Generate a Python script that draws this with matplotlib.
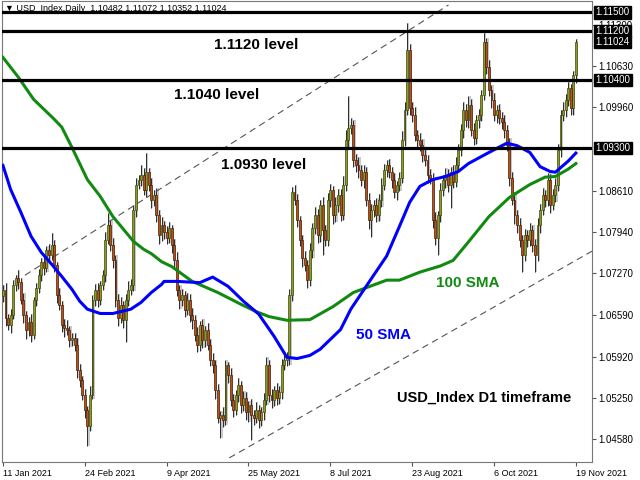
import numpy as np
import pandas as pd
import matplotlib
matplotlib.use('Agg')
import matplotlib.pyplot as plt
import matplotlib.transforms as mtransforms

plt.rcParams['font.family'] = ['Liberation Sans', 'DejaVu Sans']

# daily closes, 11 Jan 2021 .. 19 Nov 2021 (one per weekday)
closes = [
    1.0700, 1.0655, 1.0643, 1.0660, 1.0708, 1.0719, 1.0713, 1.0684, 1.0660, 1.0635, 1.0648, 1.0627, 1.0684, 1.0703, 1.0724,
    1.0745, 1.0736, 1.0765, 1.0757, 1.0773, 1.0740, 1.0692, 1.0676, 1.0643, 1.0638, 1.0635, 1.0619, 1.0622, 1.0611, 1.0570,
    1.0554, 1.0530, 1.0506, 1.0480, 1.0530, 1.0684, 1.0700, 1.0684, 1.0708, 1.0724, 1.0781, 1.0805, 1.0773, 1.0749, 1.0684,
    1.0655, 1.0676, 1.0651, 1.0684, 1.0700, 1.0708, 1.0830, 1.0870, 1.0878, 1.0886, 1.0862, 1.0891, 1.0870, 1.0846, 1.0854,
    1.0821, 1.0789, 1.0805, 1.0794, 1.0784, 1.0800, 1.0773, 1.0749, 1.0700, 1.0684, 1.0692, 1.0668, 1.0684, 1.0660, 1.0651,
    1.0627, 1.0611, 1.0643, 1.0619, 1.0635, 1.0611, 1.0587, 1.0578, 1.0538, 1.0493, 1.0497, 1.0489, 1.0578, 1.0562, 1.0522,
    1.0506, 1.0530, 1.0546, 1.0514, 1.0525, 1.0502, 1.0514, 1.0497, 1.0493, 1.0506, 1.0489, 1.0502, 1.0522, 1.0578, 1.0530,
    1.0522, 1.0538, 1.0525, 1.0535, 1.0578, 1.0587, 1.0590, 1.0692, 1.0859, 1.0846, 1.0813, 1.0781, 1.0752, 1.0740, 1.0716,
    1.0765, 1.0800, 1.0821, 1.0789, 1.0838, 1.0797, 1.0781, 1.0846, 1.0862, 1.0821, 1.0838, 1.0854, 1.0821, 1.0870, 1.0943,
    1.0962, 1.0967, 1.0911, 1.0902, 1.0894, 1.0878, 1.0891, 1.0846, 1.0813, 1.0830, 1.0838, 1.0821, 1.0846, 1.0870, 1.0894,
    1.0902, 1.0891, 1.0878, 1.0859, 1.0870, 1.0881, 1.0943, 1.0992, 1.1089, 1.0995, 1.0983, 1.0951, 1.0943, 1.0935, 1.0919,
    1.0911, 1.0886, 1.0881, 1.0813, 1.0784, 1.0821, 1.0862, 1.0878, 1.0886, 1.0870, 1.0891, 1.0875, 1.0902, 1.0927, 1.0959,
    1.0992, 1.0975, 1.1000, 1.0959, 1.0946, 1.0975, 1.0983, 1.1016, 1.1102, 1.1061, 1.1024, 1.1008, 1.0983, 1.0992, 1.0979,
    1.0972, 1.0959, 1.0935, 1.0881, 1.0846, 1.0821, 1.0805, 1.0781, 1.0757, 1.0789, 1.0781, 1.0797, 1.0773, 1.0757, 1.0805,
    1.0830, 1.0854, 1.0846, 1.0878, 1.0838, 1.0854, 1.0870, 1.0927, 1.0983, 1.0992, 1.1008, 1.1027, 1.0995, 1.10482, 1.11024,
]
first_open = 1.0690

# wick lengths in pips above / below the body
wick_up = [
    8, 12, 6, 10, 9, 5, 14, 7, 11, 6, 9, 13, 5, 8, 10,
    7, 12, 6, 9, 19, 8, 5, 11, 7, 10, 13, 6, 9, 8, 12,
    10, 7, 9, 6, 14, 8, 10, 12, 6, 9, 13, 20, 8, 11, 7,
    9, 12, 7, 10, 14, 10, 8, 12, 9, 16, 12, 31, 7, 11, 8,
    12, 9, 14, 7, 10, 11, 6, 9, 13, 8, 10, 7, 12, 9, 11,
    8, 13, 7, 10, 6, 12, 9, 11, 8, 10, 7, 14, 9, 6, 12,
    10, 8, 12, 7, 11, 9, 6, 10, 8, 13, 7, 9, 11, 14, 8,
    10, 7, 12, 9, 11, 8, 10, 9, 8, 12, 10, 7, 9, 11, 8,
    12, 9, 14, 10, 8, 13, 9, 11, 10, 7, 12, 9, 10, 14, 16,
    53, 12, 9, 10, 13, 8, 11, 9, 12, 10, 8, 11, 9, 12, 10,
    8, 11, 9, 12, 7, 10, 14, 12, 44, 10, 9, 13, 8, 11, 9,
    12, 8, 10, 9, 13, 7, 11, 9, 12, 10, 8, 11, 14, 9, 10,
    13, 9, 14, 10, 12, 9, 11, 8, 15, 7, 12, 9, 11, 8, 10,
    9, 12, 8, 11, 10, 13, 9, 12, 8, 10, 9, 11, 8, 10, 12,
    9, 11, 8, 12, 10, 9, 11, 10, 8, 12, 9, 10, 7, 6, 5,
]
wick_dn = [
    10, 14, 8, 12, 7, 9, 11, 6, 13, 15, 9, 12, 7, 10, 8,
    9, 11, 7, 12, 8, 10, 13, 9, 11, 14, 8, 12, 10, 9, 13,
    11, 9, 14, 32, 8, 7, 10, 12, 9, 8, 11, 7, 10, 13, 12,
    14, 9, 12, 35, 10, 8, 9, 11, 7, 10, 8, 12, 9, 13, 10,
    11, 14, 9, 12, 10, 8, 13, 11, 9, 15, 10, 12, 8, 11, 14,
    10, 12, 9, 13, 11, 8, 10, 12, 14, 9, 32, 11, 8, 13, 10,
    12, 9, 11, 14, 10, 12, 16, 40, 11, 9, 13, 10, 12, 9, 11,
    13, 10, 12, 9, 11, 8, 10, 12, 9, 8, 11, 10, 14, 9, 12,
    10, 13, 9, 12, 11, 40, 10, 9, 12, 14, 10, 11, 9, 8, 10,
    12, 9, 11, 10, 13, 9, 12, 10, 14, 27, 11, 10, 9, 12, 8,
    11, 9, 12, 10, 13, 9, 8, 10, 9, 12, 11, 9, 13, 10, 12,
    10, 13, 9, 12, 11, 27, 10, 9, 12, 11, 37, 10, 8, 11, 9,
    12, 10, 13, 9, 11, 10, 12, 9, 8, 11, 10, 13, 9, 12, 10,
    11, 13, 10, 12, 9, 14, 12, 11, 27, 10, 12, 9, 11, 27, 10,
    12, 9, 11, 10, 13, 9, 11, 10, 12, 9, 11, 10, 12, 11, 13,
]

# moving averages (bar index, value)
sma50_idx = [0, 3, 7, 11, 15, 19, 23, 27, 30, 33, 38, 43, 50, 54, 58, 62, 63, 68, 77, 82, 88, 94,
             100, 106, 111, 115, 120, 124, 132, 136, 142, 150, 155, 159, 163, 168, 173, 178, 182,
             190, 197, 201, 206, 210, 214, 216, 221, 224]
sma50_val = [1.0902, 1.0863, 1.0826, 1.0787, 1.0761, 1.0742, 1.0722, 1.0701, 1.0682, 1.0669, 1.0662,
             1.0662, 1.0669, 1.0680, 1.0696, 1.0709, 1.0714, 1.0714, 1.0712, 1.0721, 1.0706, 1.0682,
             1.0661, 1.0625, 1.0591, 1.0589, 1.0594, 1.0604, 1.0636, 1.0669, 1.0706, 1.0755, 1.0803,
             1.0842, 1.0868, 1.0879, 1.0884, 1.0892, 1.0905, 1.0923, 1.0938, 1.0934, 1.0923, 1.0900,
             1.0892, 1.0891, 1.0909, 1.0922]
sma100_idx = [0, 6, 12, 20, 23, 27, 33, 38, 43, 51, 55, 58, 62, 66, 74, 84, 93, 99, 104, 111, 120,
              129, 137, 150, 155, 163, 171, 176, 182, 190, 198, 206, 212, 216, 221, 224]
sma100_val = [1.1077, 1.1045, 1.1009, 1.0977, 1.0964, 1.0931, 1.0879, 1.0852, 1.0819, 1.0779, 1.0766,
              1.0759, 1.0746, 1.0738, 1.0714, 1.0696, 1.0677, 1.0665, 1.0657, 1.0651, 1.0652, 1.0673,
              1.0696, 1.0716, 1.0716, 1.0729, 1.0739, 1.0748, 1.0778, 1.0819, 1.0850, 1.0871, 1.0883,
              1.0884, 1.0896, 1.0905]

levels = [1.1150, 1.1120, 1.1040, 1.0930]
last_price = 1.11024
ytick_vals = [1.1130, 1.1063, 1.0996, 1.0861, 1.0794, 1.0727, 1.0659, 1.0592, 1.0525, 1.0458]
upper_channel = ([8.6, 174.2], [1.0724, 1.1162])
lower_channel = ([88.5, 230.3], [1.0428, 1.0763])

# ---- candles
closes = np.array(closes)
opens = np.concatenate([[first_open], closes[:-1]])
highs = np.maximum(opens, closes) + np.array(wick_up) * 0.0001
lows = np.minimum(opens, closes) - np.array(wick_dn) * 0.0001
idx = np.arange(len(closes))
dates = pd.bdate_range('2021-01-11', periods=len(closes))
up = closes >= opens

fig = plt.figure(figsize=(6.4, 4.8), dpi=100)
ax = fig.add_axes([0.003, 0.0375, 0.922, 0.96])

ax.vlines(idx + 0.45, lows, highs, color='#c4c4c4', lw=1.3, zorder=1)
ax.vlines(idx, lows, highs, color='#2b2b2b', lw=0.7, zorder=2)
body_h = np.maximum(np.abs(closes - opens), 0.00006)
ax.bar(idx[up], body_h[up], bottom=opens[up], width=0.75, color='#8c9b26',
       edgecolor='#3f4a08', lw=0.5, zorder=3)
ax.bar(idx[~up], body_h[~up], bottom=closes[~up], width=0.75, color='#b4531c',
       edgecolor='#4d1c04', lw=0.5, zorder=3)

ax.plot(sma100_idx, sma100_val, color='#128a12', lw=2.2, zorder=4)
ax.plot(sma50_idx, sma50_val, color='#0000ff', lw=2.2, zorder=4)

ax.plot(*upper_channel, color='#555555', lw=0.8, ls=(0, (6, 4)), zorder=2)
ax.plot(*lower_channel, color='#555555', lw=0.8, ls=(0, (6, 4)), zorder=2)

for lv in levels:
    ax.axhline(lv, color='black', lw=2.3, zorder=5)

ax.set_xlim(-0.4, 230.3)
ax.set_ylim(1.04213, 1.11681)

# right price axis
ax.yaxis.tick_right()
ax.set_yticks(ytick_vals)
ax.set_yticklabels(['%.5f' % v for v in ytick_vals])
ax.tick_params(axis='y', length=3, labelsize=7, pad=1.5, color='#555555')

trans = mtransforms.blended_transform_factory(ax.transAxes, ax.transData)
for lv in levels + [last_price]:
    ax.annotate('%.5f' % lv, xy=(1.0, lv), xycoords=trans, xytext=(2.5, 0),
                textcoords='offset points', ha='left', va='center', color='white',
                fontsize=7, annotation_clip=False, zorder=10,
                bbox=dict(boxstyle='square,pad=0.12', fc='black', ec='black'))

xt = idx[::32]
ax.set_xticks(xt)
ax.set_xticklabels(['%d %s' % (dates[i].day, dates[i].strftime('%b %Y')) for i in xt])
for lbl in ax.get_xticklabels():
    lbl.set_ha('left')
ax.tick_params(axis='x', length=3, labelsize=6.5, pad=2, color='#555555')

for sp in ax.spines.values():
    sp.set_color('#777777')
    sp.set_linewidth(0.8)

ax.text(0.005, 0.985, '\u25bc USD_Index,Daily  1.10482 1.11072 1.10352 1.11024',
        transform=ax.transAxes, fontsize=6.5, va='center', ha='left')

txt = dict(transform=ax.transAxes, fontsize=11, fontweight='bold', va='center', ha='left', zorder=6)
ax.text(0.360, 0.905, '1.1120 level', **txt)
ax.text(0.292, 0.796, '1.1040 level', **txt)
ax.text(0.372, 0.644, '1.0930 level', **txt)
ax.text(0.735, 0.388, '100 SMA', color='#128a12', **txt)
ax.text(0.600, 0.275, '50 SMA', color='#0000ff', **txt)
txt['fontsize'] = 10.5
ax.text(0.669, 0.139, 'USD_Index D1 timeframe', **txt)

fig.savefig('out.png', dpi=100)
